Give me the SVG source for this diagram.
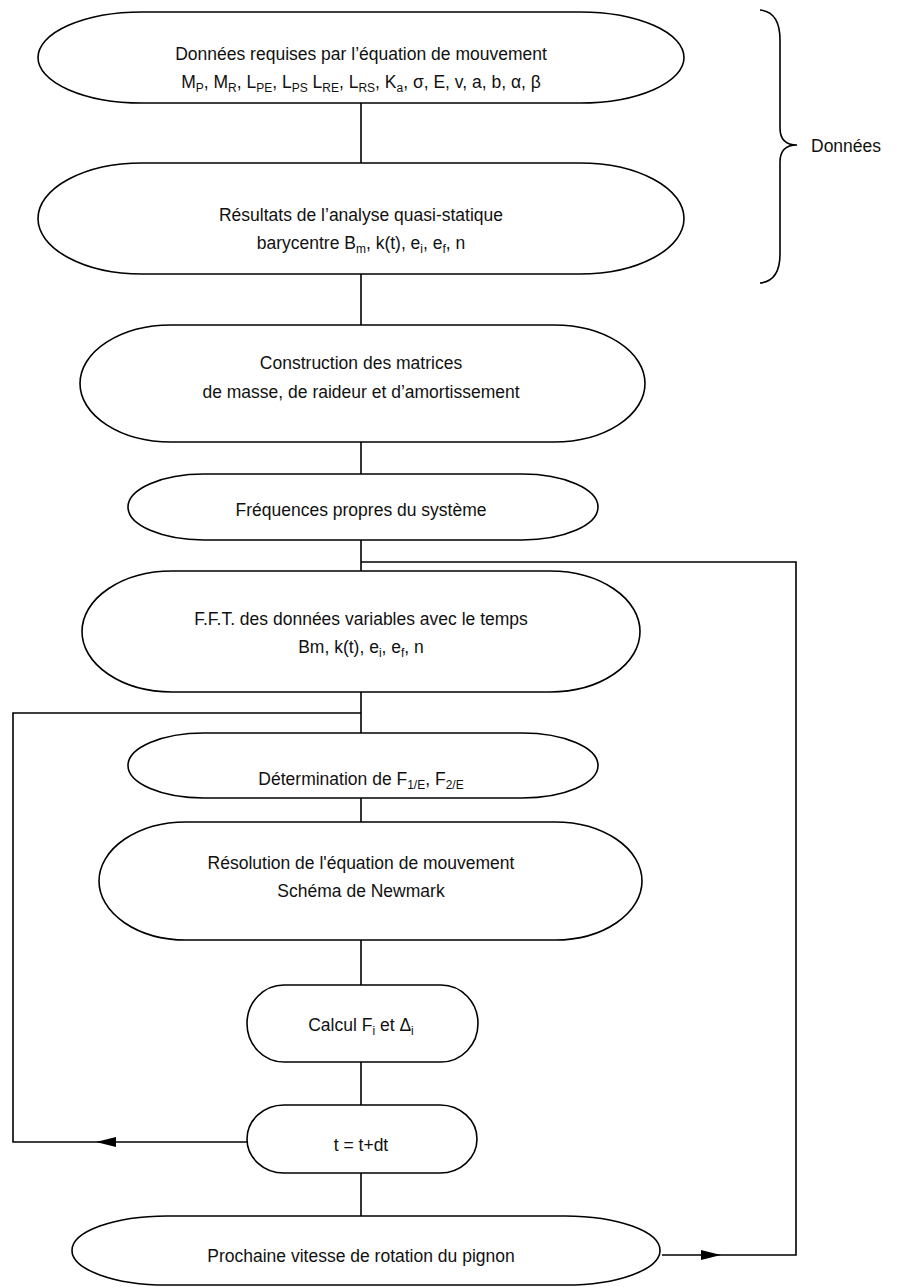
<svg xmlns="http://www.w3.org/2000/svg" width="904" height="1287" viewBox="0 0 904 1287">
<defs>
<style>
.n{fill:#fff;stroke:#000;stroke-width:1.6}
.c{fill:none;stroke:#000;stroke-width:1.6}
.t{font-family:"Liberation Sans",Arial,sans-serif;font-size:17.5px;fill:#111;text-anchor:middle}
.s{font-size:12px}
</style>
<marker id="ah" viewBox="0 0 20 10" refX="20" refY="5" markerWidth="20" markerHeight="10" markerUnits="userSpaceOnUse" orient="auto">
<path d="M0,0 L20,5 L0,10 Z" fill="#000"/>
</marker>
</defs>
<rect width="904" height="1287" fill="#fff"/>

<g id="connectors">
<line class="c" x1="361" y1="103" x2="361" y2="163"/>
<line class="c" x1="361" y1="274" x2="361" y2="325"/>
<line class="c" x1="361" y1="442" x2="361" y2="474"/>
<line class="c" x1="361" y1="540" x2="361" y2="571"/>
<line class="c" x1="361" y1="692" x2="361" y2="733"/>
<line class="c" x1="361" y1="798" x2="361" y2="822"/>
<line class="c" x1="361" y1="940" x2="361" y2="985"/>
<line class="c" x1="361" y1="1062" x2="361" y2="1105"/>
<line class="c" x1="361" y1="1173" x2="361" y2="1216"/>
<line class="c" x1="247" y1="1142" x2="96" y2="1142" marker-end="url(#ah)"/>
<path class="c" d="M96,1142 L13,1142 L13,713 L361,713"/>
<line class="c" x1="662" y1="1255" x2="721" y2="1255" marker-end="url(#ah)"/>
<path class="c" d="M721,1255 L796,1255 L796,562 L361,562"/>
</g>

<g id="brace">
<path class="c" d="M760,10 Q780,12 780,40 L780,128 Q780,145 797,145 Q780,145 780,162 L780,254 Q780,281 760,283"/>
<text class="t" x="811" y="152" style="text-anchor:start">Données</text>
</g>

<g id="n1">
<rect class="n" x="38" y="12" width="646" height="91" rx="104" ry="45.5"/>
<text class="t" x="361" y="60">Données requises par l’équation de mouvement</text>
<text class="t" x="361" y="88">M<tspan class="s" dy="4">P</tspan><tspan dy="-4">, M</tspan><tspan class="s" dy="4">R</tspan><tspan dy="-4">, L</tspan><tspan class="s" dy="4">PE</tspan><tspan dy="-4">, L</tspan><tspan class="s" dy="4">PS</tspan><tspan dy="-4"> L</tspan><tspan class="s" dy="4">RE</tspan><tspan dy="-4">, L</tspan><tspan class="s" dy="4">RS</tspan><tspan dy="-4">, K</tspan><tspan class="s" dy="4">a</tspan><tspan dy="-4">, σ, E, v, a, b, α, β</tspan></text>
</g>

<g id="n2">
<rect class="n" x="38" y="163" width="646" height="111" rx="104" ry="55.5"/>
<text class="t" x="361" y="221">Résultats de l’analyse quasi-statique</text>
<text class="t" x="361" y="249">barycentre B<tspan class="s" dy="4">m</tspan><tspan dy="-4">, k(t), e</tspan><tspan class="s" dy="4">i</tspan><tspan dy="-4">, e</tspan><tspan class="s" dy="4">f</tspan><tspan dy="-4">, n</tspan></text>
</g>

<g id="n3">
<rect class="n" x="80" y="325" width="565" height="117" rx="91" ry="58.5"/>
<text class="t" x="361" y="369">Construction des matrices</text>
<text class="t" x="361" y="398">de masse, de raideur et d’amortissement</text>
</g>

<g id="n4">
<rect class="n" x="128" y="474" width="470" height="66" rx="76" ry="33"/>
<text class="t" x="361" y="516">Fréquences propres du système</text>
</g>

<g id="n5">
<rect class="n" x="82" y="571" width="558" height="121" rx="90" ry="60.5"/>
<text class="t" x="361" y="625">F.F.T. des données variables avec le temps</text>
<text class="t" x="361" y="653">Bm, k(t), e<tspan class="s" dy="4">i</tspan><tspan dy="-4">, e</tspan><tspan class="s" dy="4">f</tspan><tspan dy="-4">, n</tspan></text>
</g>

<g id="n6">
<rect class="n" x="128" y="733" width="470" height="65" rx="76" ry="32.5"/>
<text class="t" x="361" y="785">Détermination de F<tspan class="s" dy="4">1/E</tspan><tspan dy="-4">, F</tspan><tspan class="s" dy="4">2/E</tspan></text>
</g>

<g id="n7">
<rect class="n" x="99" y="822" width="543" height="118" rx="87" ry="59"/>
<text class="t" x="361" y="869">Résolution de l'équation de mouvement</text>
<text class="t" x="361" y="897">Schéma de Newmark</text>
</g>

<g id="n8">
<rect class="n" x="247" y="985" width="231" height="77" rx="37" ry="38.5"/>
<text class="t" x="361" y="1031">Calcul F<tspan class="s" dy="4">i</tspan><tspan dy="-4"> et Δ</tspan><tspan class="s" dy="4">i</tspan></text>
</g>

<g id="n9">
<rect class="n" x="247" y="1105" width="230" height="68" rx="37" ry="34"/>
<text class="t" x="361" y="1151">t = t+dt</text>
</g>

<g id="n10">
<rect class="n" x="72" y="1216" width="588" height="69" rx="95" ry="34.5"/>
<text class="t" x="361" y="1262">Prochaine vitesse de rotation du pignon</text>
</g>
</svg>
